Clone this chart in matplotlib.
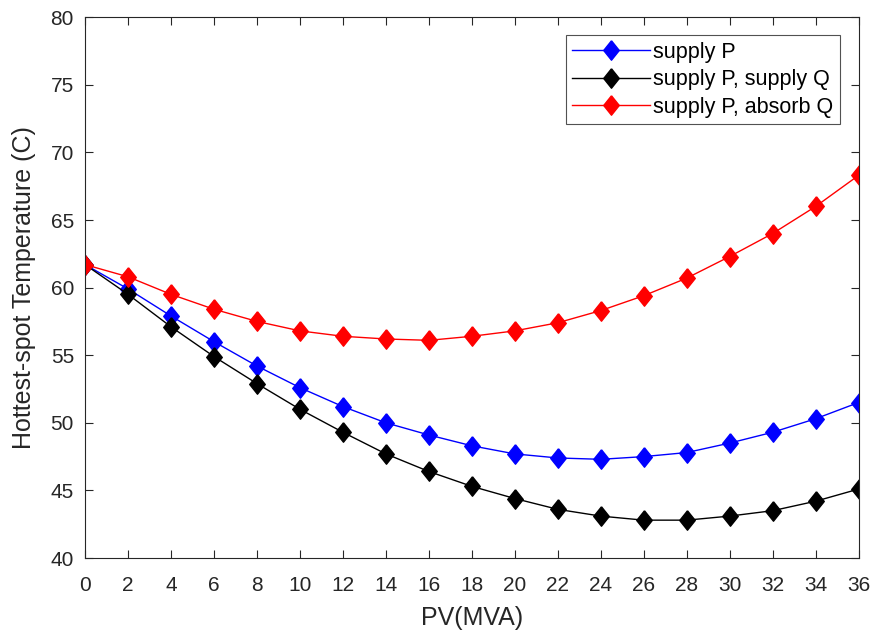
import numpy as np
import matplotlib
matplotlib.use('Agg')
import matplotlib.pyplot as plt

plt.rcParams['font.family'] = ['Liberation Sans', 'DejaVu Sans']

# PV size (MVA)
pv = [0, 2, 4, 6, 8, 10, 12, 14, 16, 18, 20, 22, 24, 26, 28, 30, 32, 34, 36]

# hottest-spot temperature
supply_p = [61.7, 59.9, 57.9, 56.0, 54.2, 52.6, 51.2, 50.0, 49.1, 48.3, 47.7,
            47.4, 47.3, 47.5, 47.8, 48.5, 49.3, 50.3, 51.5]
supply_p_supply_q = [61.7, 59.5, 57.1, 54.9, 52.9, 51.0, 49.3, 47.7, 46.4, 45.3,
                     44.4, 43.6, 43.1, 42.8, 42.8, 43.1, 43.5, 44.2, 45.1]
supply_p_absorb_q = [61.7, 60.8, 59.5, 58.4, 57.5, 56.8, 56.4, 56.2, 56.1, 56.4,
                     56.8, 57.4, 58.3, 59.4, 60.7, 62.3, 64.0, 66.0, 68.3]

labels = ['supply P', 'supply P, supply Q', 'supply P, absorb Q']
colors = ['blue', 'black', 'red']

# MATLAB-like diamond (a bit taller than wide)
diamond = [(0, 1), (0.8, 0), (0, -1), (-0.8, 0), (0, 1)]

fig = plt.figure(figsize=(8.77, 6.37), dpi=100)
ax = fig.add_axes([0.097, 0.124, 0.882, 0.849])

for y, lab, c in zip([supply_p, supply_p_supply_q, supply_p_absorb_q], labels, colors):
    ax.plot(pv, y, color=c, linewidth=1, marker=diamond, markersize=14,
            markerfacecolor=c, markeredgecolor=c, label=lab)

ax.set_xlim(0, 36)
ax.set_ylim(40, 80)
ax.set_xticks(np.arange(0, 37, 2))
ax.set_yticks(np.arange(40, 81, 5))

axis_gray = '#262626'
for s in ax.spines.values():
    s.set_color(axis_gray)
    s.set_linewidth(0.8)
ax.tick_params(direction='in', top=True, right=True, length=6, width=0.8,
               color=axis_gray, labelcolor=axis_gray, labelsize=15)
ax.tick_params(axis='x', pad=13)
ax.tick_params(axis='y', pad=8)

ax.set_xlabel('PV(MVA)', fontsize=18, color=axis_gray, labelpad=8)
ax.set_ylabel('Hottest-spot Temperature (C)', fontsize=18, color=axis_gray, labelpad=10.5)

leg = ax.legend(loc='upper right', bbox_to_anchor=(0.9755, 0.9667), fontsize=15.5,
                frameon=True, fancybox=False, edgecolor=axis_gray,
                handlelength=3.6, borderpad=0.3, labelspacing=0.3,
                handletextpad=0.15, borderaxespad=0)
leg.get_frame().set_linewidth(0.8)

fig.savefig('out.png', dpi=100)
